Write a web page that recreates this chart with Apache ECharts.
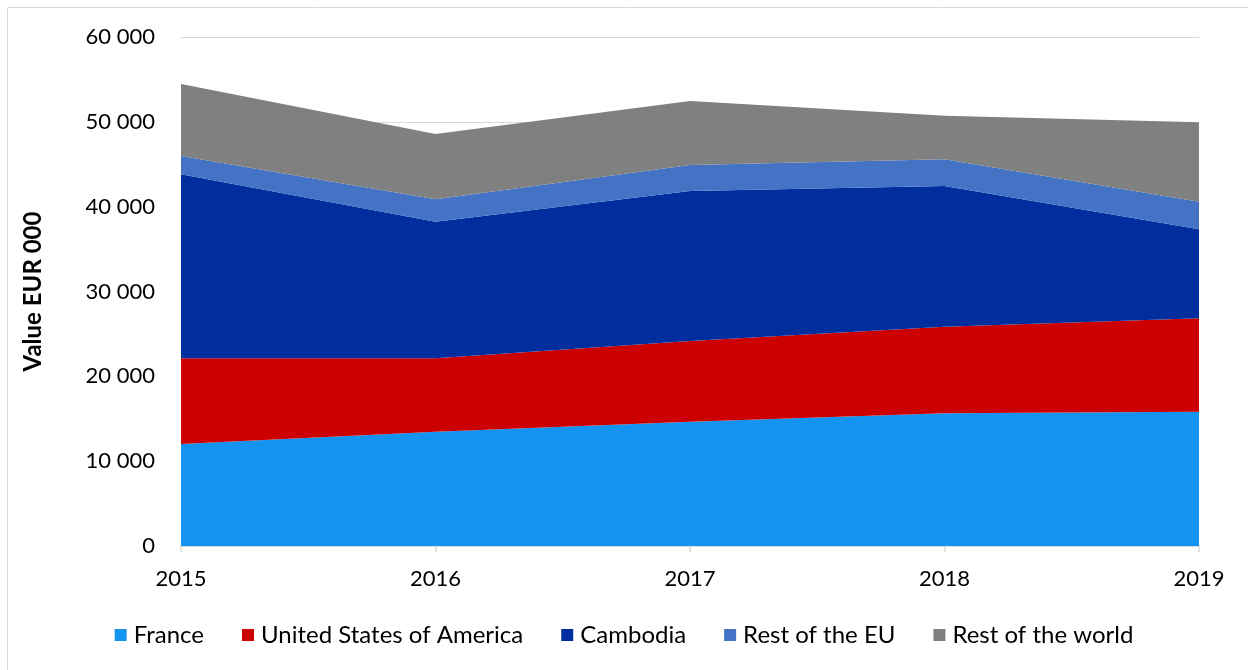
<!DOCTYPE html>
<html>
<head>
<meta charset="utf-8">
<script src="https://cdn.jsdelivr.net/npm/echarts@6/dist/echarts.min.js"></script>
<style>
html,body{margin:0;padding:0;background:#fff;}
#chart{width:1248px;height:670px;}
</style>
</head>
<body>
<div id="chart"></div>
<script>
const years = ['2015', '2016', '2017', '2018', '2019'];
const france = [12020, 13460, 14650, 15640, 15830];
const usa = [10110, 8670, 9520, 10210, 11010];
const cambodia = [21690, 16100, 17680, 16590, 10490];
const restEU = [2150, 2640, 3060, 3140, 3260];
const restWorld = [8490, 7700, 7550, 5140, 9360];
const yTicks = [0, 10000, 20000, 30000, 40000, 50000, 60000];

const seriesDefs = [
  { name: 'France', data: france, color: '#1593F0' },
  { name: 'United States of America', data: usa, color: '#CC0000' },
  { name: 'Cambodia', data: cambodia, color: '#002E9F' },
  { name: 'Rest of the EU', data: restEU, color: '#4472C4' },
  { name: 'Rest of the world', data: restWorld, color: '#808080' }
];

const font = 'Lato, "Open Sans", sans-serif';
const chart = echarts.init(document.getElementById('chart'), null, { renderer: 'canvas' });

function fmt(v) {
  return String(v).replace(/\B(?=(\d{3})+(?!\d))/g, ' ');
}

chart.setOption({
  animation: false,
  backgroundColor: '#fff',
  graphic: [{
    type: 'rect',
    shape: { x: 7.5, y: 7.5, width: 1300, height: 700 },
    style: { fill: 'none', stroke: '#d9d9d9', lineWidth: 1 },
    silent: true
  }],
  grid: { left: 181, right: 49, top: 37, bottom: 124 },
  legend: {
    bottom: 18,
    left: 'center',
    itemWidth: 12,
    itemHeight: 12,
    itemGap: 38,
    icon: 'rect',
    textStyle: { fontFamily: font, fontSize: 24, color: '#000', padding: [0, 0, 0, 2] },
    data: seriesDefs.map(s => s.name)
  },
  xAxis: {
    type: 'category',
    data: years,
    boundaryGap: false,
    axisLine: { lineStyle: { color: '#d9d9d9', width: 1.5 } },
    axisTick: { show: true, length: 6, lineStyle: { color: '#d9d9d9', width: 1.5 } },
    axisLabel: { fontFamily: font, fontSize: 22, color: '#000', margin: 22 },
    splitLine: { show: false }
  },
  yAxis: {
    type: 'value',
    min: yTicks[0],
    max: yTicks[yTicks.length - 1],
    interval: 10000,
    name: 'Value EUR 000',
    nameLocation: 'middle',
    nameGap: 136,
    nameRotate: 90,
    nameTextStyle: { fontFamily: font, fontSize: 24, fontWeight: 'bold', color: '#000' },
    axisLine: { show: false },
    axisTick: { show: false },
    axisLabel: { fontFamily: font, fontSize: 22, color: '#000', margin: 26, formatter: fmt },
    splitLine: { lineStyle: { color: '#d9d9d9', width: 1 } }
  },
  series: seriesDefs.map(s => ({
    name: s.name,
    type: 'line',
    stack: 'total',
    data: s.data,
    symbol: 'none',
    lineStyle: { width: 0 },
    areaStyle: { color: s.color, opacity: 1 },
    itemStyle: { color: s.color }
  }))
});
</script>
</body>
</html>
